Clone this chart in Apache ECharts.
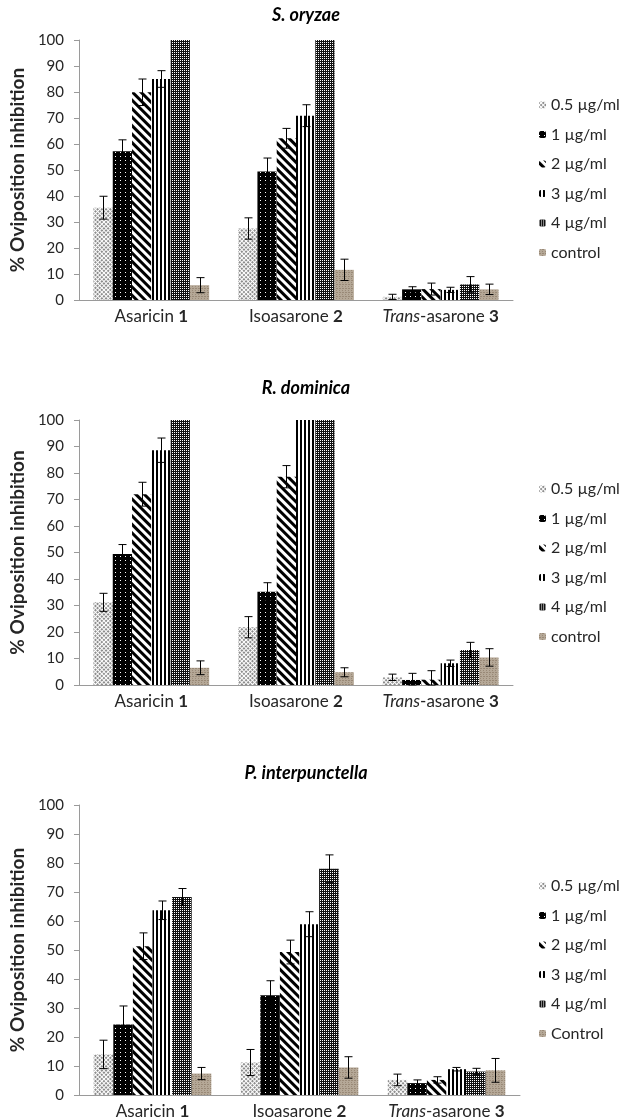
<!DOCTYPE html>
<html>
<head>
<meta charset="utf-8">
<script src="https://cdn.jsdelivr.net/npm/echarts@6/dist/echarts.min.js"></script>
<style>
html,body{margin:0;padding:0;background:#fff;}
#chart{width:625px;height:1120px;}
</style>
</head>
<body>
<div id="chart"></div>
<script>
// ---- Data ----
const categories = ['Asaricin 1', 'Isoasarone 2', 'Trans-asarone 3'];
const panelTitles = ['S. oryzae', 'R. dominica', 'P. interpunctella'];
const seriesNames = ['0.5 µg/ml', '1 µg/ml', '2 µg/ml', '3 µg/ml', '4 µg/ml', 'control'];
const seriesNamesP3 = ['0.5 µg/ml', '1 µg/ml', '2 µg/ml', '3 µg/ml', '4 µg/ml', 'Control'];
const yTicks = [0, 100, 10]; // min, max, interval

// rows = concentration (0.5, 1, 2, 3, 4, control); columns = categories
const oryzaeMean = [[35.5, 27.5, 1.2], [57.2, 49.4, 4.1], [79.9, 62.2, 4.2], [85.0, 70.9, 3.9], [100, 100, 6.0], [5.7, 11.6, 4.1]];
const oryzaeErr  = [[4.4, 4.1, 1.0], [4.4, 5.2, 1.0], [5.1, 3.8, 2.3], [3.2, 4.2, 1.0], [0, 0, 3.0], [2.9, 4.1, 2.0]];

const dominicaMean = [[31.2, 21.8, 2.9], [49.4, 35.2, 1.9], [72.0, 78.6, 2.0], [88.6, 100, 8.2], [100, 100, 13.2], [6.5, 4.8, 10.4]];
const dominicaErr  = [[3.4, 4.0, 1.2], [3.6, 3.4, 2.5], [4.5, 4.2, 3.4], [4.6, 0, 1.2], [0, 0, 2.9], [2.6, 1.7, 3.3]];

const interpMean = [[14.0, 11.2, 5.2], [24.3, 34.4, 4.1], [51.3, 49.3, 5.2], [63.7, 58.9, 8.9], [68.3, 78.0, 8.1], [7.4, 9.5, 8.5]];
const interpErr  = [[4.9, 4.5, 2.0], [6.4, 5.0, 1.1], [4.6, 4.1, 1.1], [3.2, 4.3, 0.6], [2.9, 4.8, 1.1], [2.1, 3.7, 4.1]];

// ---- Styles ----
const FONT = 'Lato, "Open Sans", sans-serif';
const AXIS_COLOR = '#9a9a9a';
const TEXT_COLOR = '#262626';

const barStyles = [
  { color: '#ffffff', decal: { symbol: 'rect', symbolSize: 1, color: '#8c8c8c', dashArrayX: [2, 1], dashArrayY: [2, 1], rotation: Math.PI / 4 } },
  { color: '#000000', decal: { symbol: 'rect', symbolSize: 1, color: '#ffffff', dashArrayX: [1, 4], dashArrayY: [1, 3] } },
  { color: '#ffffff', decal: { symbol: 'rect', symbolSize: 1, color: '#000000', dashArrayX: [1, 0], dashArrayY: [3, 3], rotation: Math.PI / 4 } },
  { color: '#ffffff', decal: { symbol: 'rect', symbolSize: 1, color: '#000000', dashArrayX: [2, 2], dashArrayY: [1, 0] } },
  { color: '#111111', decal: { symbol: 'rect', symbolSize: 1, color: '#ffffff', dashArrayX: [1, 1], dashArrayY: [1, 1] } },
  { color: '#b5a897', decal: { symbol: 'rect', symbolSize: 1, color: 'rgba(100,80,60,0.35)', dashArrayX: [[1, 2], [2, 1]], dashArrayY: [1, 1] } }
];

const panels = [
  { title: panelTitles[0], names: seriesNames, mean: oryzaeMean, err: oryzaeErr, top: 40, height: 260, right: 112, titleY: 15, legendTop: 97 },
  { title: panelTitles[1], names: seriesNames, mean: dominicaMean, err: dominicaErr, top: 420, height: 265, right: 112, titleY: 388, legendTop: 481 },
  { title: panelTitles[2], names: seriesNamesP3, mean: interpMean, err: interpErr, top: 805, height: 293, right: 105, titleY: 773, legendTop: 878 }
];

const CAT_GAP = 0.2;

function catLabel(v) {
  const parts = v.split(' ');
  const num = parts.pop();
  const word = parts.join(' ');
  if (word.indexOf('Trans-') === 0) {
    return '{i|Trans}{n|' + word.slice(5) + ' }{b|' + num + '}';
  }
  return '{n|' + word + ' }{b|' + num + '}';
}

const grids = [], xAxes = [], yAxes = [], legends = [], series = [], graphics = [];

panels.forEach(function (p, pi) {
  grids.push({ left: 67, right: p.right, top: p.top, height: p.height, containLabel: false });
  xAxes.push({
    type: 'category', gridIndex: pi, data: categories,
    axisLine: { lineStyle: { color: AXIS_COLOR, width: 1 } },
    axisTick: { show: false },
    axisLabel: {
      margin: 8, interval: 0, formatter: catLabel,
      rich: {
        n: { fontFamily: FONT, fontSize: 17, color: TEXT_COLOR },
        i: { fontFamily: FONT, fontSize: 17, color: TEXT_COLOR, fontStyle: 'italic' },
        b: { fontFamily: FONT, fontSize: 17, color: TEXT_COLOR, fontWeight: 'bold' }
      }
    }
  });
  yAxes.push({
    type: 'value', gridIndex: pi, min: yTicks[0], max: yTicks[1], interval: yTicks[2],
    name: '% Oviposition inhibition', nameLocation: 'middle', nameGap: 40,
    nameTextStyle: { fontFamily: FONT, fontSize: 19, fontWeight: 'bold', color: TEXT_COLOR },
    axisLine: { show: true, lineStyle: { color: AXIS_COLOR, width: 1 } },
    axisTick: { show: true, length: 5, lineStyle: { color: AXIS_COLOR } },
    splitLine: { show: false },
    axisLabel: { margin: 15, fontFamily: FONT, fontSize: 15, color: TEXT_COLOR }
  });
  legends.push({
    orient: 'vertical', left: 539, top: p.legendTop, padding: 0,
    itemWidth: 7, itemHeight: 7, itemGap: 13.5, selectedMode: false,
    data: p.names,
    textStyle: { fontFamily: FONT, fontSize: 16, color: TEXT_COLOR }
  });
  graphics.push({
    type: 'text', x: 306, y: p.titleY,
    style: { text: p.title, textAlign: 'center', textVerticalAlign: 'middle',
      font: 'italic bold 18px ' + FONT, fill: '#000' }
  });

  p.names.forEach(function (nm, si) {
    series.push({
      type: 'bar', name: nm, xAxisIndex: pi, yAxisIndex: pi,
      barGap: '0%', barCategoryGap: (CAT_GAP * 100) + '%',
      itemStyle: barStyles[si],
      emphasis: { disabled: true },
      data: p.mean[si]
    });
  });

  const errData = [];
  p.mean.forEach(function (row, si) {
    row.forEach(function (v, ci) { errData.push([ci, si, v, p.err[si][ci]]); });
  });
  series.push({
    type: 'custom', name: 'err' + pi, xAxisIndex: pi, yAxisIndex: pi, z: 10,
    silent: true,
    encode: { x: 0, y: 2 },
    data: errData,
    renderItem: function (params, api) {
      const ci = api.value(0), si = api.value(1), v = api.value(2), e = api.value(3);
      if (!e) return null;
      const band = api.size([1, 0])[0];
      const gw = band * (1 - CAT_GAP);
      const bw = gw / 6;
      const c = api.coord([ci, v]);
      const x = Math.round(c[0] - gw / 2 + bw * (si + 0.5)) + 0.5;
      const yTop = api.coord([ci, v + e])[1];
      const yBot = api.coord([ci, Math.max(v - e, 0)])[1];
      const cap = 4;
      const st = { stroke: '#000', lineWidth: 1 };
      return {
        type: 'group',
        children: [
          { type: 'line', shape: { x1: x, y1: yTop, x2: x, y2: yBot }, style: st },
          { type: 'line', shape: { x1: x - cap, y1: yTop, x2: x + cap, y2: yTop }, style: st },
          { type: 'line', shape: { x1: x - cap, y1: yBot, x2: x + cap, y2: yBot }, style: st }
        ]
      };
    }
  });
});

const chart = echarts.init(document.getElementById('chart'), null, { renderer: 'canvas' });
chart.setOption({
  animation: false,
  backgroundColor: '#ffffff',
  textStyle: { fontFamily: FONT },
  grid: grids, xAxis: xAxes, yAxis: yAxes, legend: legends,
  graphic: graphics,
  series: series
});
</script>
</body>
</html>
